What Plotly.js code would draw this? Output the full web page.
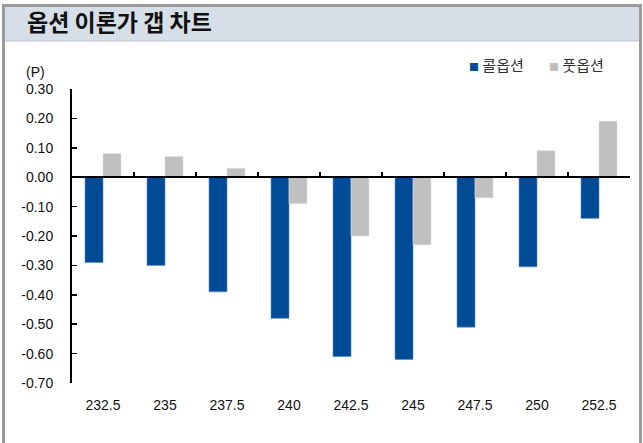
<!DOCTYPE html>
<html>
<head>
<meta charset="utf-8">
<script src="https://cdn.plot.ly/plotly-3.0.1.min.js"></script>
<style>
html,body{margin:0;padding:0;background:#fff;}
#chart{width:643px;height:443px;}
</style>
</head>
<body>
<div id="chart"></div>
<script>
// ---- data ----
const strikes = ['232.5','235','237.5','240','242.5','245','247.5','250','252.5'];
const callGap = [-0.29, -0.30, -0.39, -0.48, -0.61, -0.62, -0.51, -0.305, -0.14];
const putGap  = [0.08, 0.07, 0.03, -0.09, -0.20, -0.23, -0.07, 0.09, 0.19];
const seriesNames = ['콜옵션', '풋옵션'];
const yTickVals = [0.3, 0.2, 0.1, 0, -0.1, -0.2, -0.3, -0.4, -0.5, -0.6, -0.7];
const yTickText = ['0.30','0.20','0.10','0.00','-0.10','-0.20','-0.30','-0.40','-0.50','-0.60','-0.70'];
const chartTitle = '옵션 이론가 갭 차트';
const unitLabel = '(P)';

const blue = '#004b96', grey = '#c0c0c0';
const numFont = 'Liberation Sans, Arial, sans-serif';
const krFont = 'Noto Sans CJK KR, sans-serif';

// plot area in pixels: x 72..630, y 89..383
const L = 72, R = 630, T = 89, B = 383;
const W = R - L, H = B - T;
const fx = px => (px - L) / W;
const fy = py => (B - py) / H;

const traces = [
  {type:'bar', x: strikes, y: callGap, name: seriesNames[0], xaxis:'x', yaxis:'y',
   marker:{color: blue, line:{color:'#5a86bd', width:0.6}}, hoverinfo:'x+y'},
  {type:'bar', x: strikes, y: putGap, name: seriesNames[1], xaxis:'x', yaxis:'y',
   marker:{color: grey, line:{color:'#dcdcdc', width:0.6}}, hoverinfo:'x+y'},
  // carrier for the label axis
  {type:'scatter', x: strikes, y: strikes.map(() => null), xaxis:'x2', yaxis:'y',
   mode:'none', showlegend:false, hoverinfo:'skip'}
];

const layout = {
  width: 643, height: 443,
  margin: {l: L, r: 643 - R, t: T, b: 443 - B, pad: 0},
  paper_bgcolor: '#ffffff', plot_bgcolor: '#ffffff',
  showlegend: false,
  barmode: 'group', bargap: 0.42, bargroupgap: 0,
  title: {text: '<b>' + chartTitle + '</b>', font: {family: krFont, size: 23, color: '#111'},
          xref: 'container', yref: 'container', x: 27/643, xanchor: 'left', y: 1 - 23/443, yanchor: 'middle'},
  xaxis: {
    type: 'category', categoryorder: 'array', categoryarray: strikes, range: [-0.5, 8.5],
    anchor: 'free', position: 0.7, side: 'bottom',
    showline: true, linecolor: '#000', linewidth: 2,
    ticks: 'inside', tickson: 'boundaries', ticklen: 4, tickwidth: 1.5, tickcolor: '#000',
    showticklabels: false, showgrid: false, zeroline: false, fixedrange: true
  },
  xaxis2: {
    type: 'category', categoryorder: 'array', categoryarray: strikes, range: [-0.5, 8.5],
    overlaying: 'x', anchor: 'y', side: 'bottom',
    showline: false, ticks: '', showgrid: false, zeroline: false,
    tickfont: {family: numFont, size: 14, color: '#111'}, ticklabelstandoff: 12, fixedrange: true
  },
  yaxis: {
    range: [-0.7, 0.3], tickvals: yTickVals, ticktext: yTickText,
    showline: true, linecolor: '#000', linewidth: 2,
    ticks: 'inside', ticklen: 5, tickwidth: 1.5, tickcolor: '#000',
    showgrid: false, zeroline: false,
    tickfont: {family: numFont, size: 14, color: '#111'}, ticklabelstandoff: 14, fixedrange: true
  },
  shapes: [
    // title band
    {type:'rect', xref:'paper', yref:'paper', x0: fx(5), x1: fx(639), y0: fy(41), y1: fy(6),
     fillcolor:'#d6dfe7', line:{width:0}, layer:'below'},
    {type:'line', xref:'paper', yref:'paper', x0: fx(5), x1: fx(639), y0: fy(41), y1: fy(41),
     line:{color:'#b8c0c8', width:1}},
    // frame
    {type:'rect', xref:'paper', yref:'paper', x0: fx(2), x1: fx(5), y0: fy(443), y1: fy(4),
     fillcolor:'#9a9a9a', line:{width:0}},
    {type:'rect', xref:'paper', yref:'paper', x0: fx(639), x1: fx(642), y0: fy(443), y1: fy(4),
     fillcolor:'#9a9a9a', line:{width:0}},
    {type:'rect', xref:'paper', yref:'paper', x0: fx(2), x1: fx(642), y0: fy(7), y1: fy(4),
     fillcolor:'#9a9a9a', line:{width:0}}
  ],
  annotations: [
    {text: unitLabel, xref:'paper', yref:'paper', x: fx(24), y: fy(72), xanchor:'left', yanchor:'middle',
     showarrow:false, font:{family: numFont, size: 14, color:'#111'}},
    {text: '<span style="color:' + blue + ';font-size:10px">■</span> ' + seriesNames[0],
     xref:'paper', yref:'paper', x: fx(467), y: fy(65), xanchor:'left', yanchor:'middle',
     showarrow:false, font:{family: krFont, size: 15, color:'#333'}},
    {text: '<span style="color:' + grey + ';font-size:10px">■</span> ' + seriesNames[1],
     xref:'paper', yref:'paper', x: fx(547), y: fy(65), xanchor:'left', yanchor:'middle',
     showarrow:false, font:{family: krFont, size: 15, color:'#333'}}
  ]
};

Plotly.newPlot('chart', traces, layout, {displayModeBar: false, staticPlot: true});
</script>
</body>
</html>
